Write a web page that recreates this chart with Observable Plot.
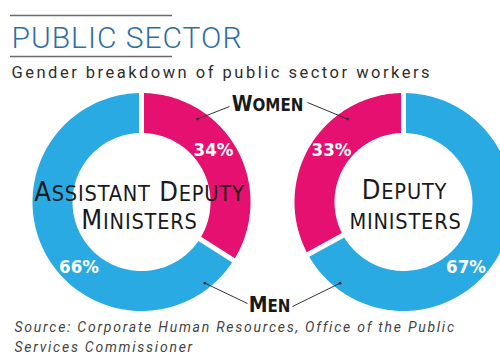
<!DOCTYPE html>
<html>
<head>
<meta charset="utf-8">
<script src="https://cdn.jsdelivr.net/npm/d3@7"></script>
<script src="https://cdn.jsdelivr.net/npm/@observablehq/plot@0.6"></script>
<style>
  body { margin: 0; background: #fff; }
  #chart { width: 500px; height: 363px; overflow: hidden; }
  tspan.sc { text-transform: uppercase; }
</style>
</head>
<body>
<div id="chart"></div>
<script>
// ---- data ----
const groups = ["Assistant Deputy Ministers", "Deputy ministers"];
const genders = ["Women", "Men"];
const womenPct = [34, 33];
const menPct = [66, 67];
const centerLines = [["Assistant Deputy", "Ministers"], ["Deputy", "ministers"]];
const titleText = "PUBLIC SECTOR";
const subtitleText = "Gender breakdown of public sector workers";
const sourceLines = ["Source: Corporate Human Resources, Office of the Public", "Services Commissioner"];
const genderColors = ["#e5106f", "#2aaae2"];

// ---- layout ----
const W = 500, H = 363;
const cx = [141, 403], cy = 201.5;
const rOuter = 109, rInner = 69, gap = 2.5;
const dir = [1, -1];
const TAU = Math.PI * 2;
const deg = Math.PI / 180;
const pt = (g, r, a) => ({x: cx[g] + r * Math.sin(a), y: cy - r * Math.cos(a)});

// slice polygons
const rings = [];
groups.forEach((grp, g) => {
  const s = dir[g];
  const w = womenPct[g] / (womenPct[g] + menPct[g]);
  const spans = s > 0
    ? {Women: [0, w * TAU], Men: [w * TAU, TAU]}
    : {Women: [-w * TAU, 0], Men: [-TAU, -w * TAU]};
  genders.forEach(gender => {
    const [a0, a1] = spans[gender];
    const po = Math.asin(gap / rOuter), pi = Math.asin(gap / rInner);
    const n = 120;
    for (let i = 0; i <= n; i++) {
      const a = (a0 + po) + (a1 - a0 - 2 * po) * i / n;
      rings.push({key: grp + gender, gender, ...pt(g, rOuter, a)});
    }
    for (let i = 0; i <= n; i++) {
      const a = (a1 - pi) - (a1 - a0 - 2 * pi) * i / n;
      rings.push({key: grp + gender, gender, ...pt(g, rInner, a)});
    }
  });
});

// percentage labels
const pctRows = [];
groups.forEach((grp, g) => {
  const s = dir[g];
  pctRows.push({label: womenPct[g] + "%", ...pt(g, 89, s * 54 * deg)});
  pctRows.push({label: menPct[g] + "%", ...pt(g, 90, -s * 136 * deg)});
});

// leader lines
const leaderEnds = {Women: [[229, 106], [307, 102]], Men: [[247, 303], [292, 306]]};
const leaders = [];
groups.forEach((grp, g) => {
  const s = dir[g];
  const wd = pt(g, 100, s * 34 * deg);
  const md = pt(g, 103, s * 142 * deg);
  leaders.push({x1: wd.x, y1: wd.y, x2: leaderEnds.Women[g][0], y2: leaderEnds.Women[g][1]});
  leaders.push({x1: md.x, y1: md.y, x2: leaderEnds.Men[g][0], y2: leaderEnds.Men[g][1]});
});

const centerRows = [
  {text: centerLines[0][0], x: 139, y: 200},
  {text: centerLines[0][1], x: 139, y: 228},
  {text: centerLines[1][0], x: 404, y: 198},
  {text: centerLines[1][1], x: 405, y: 228}
];

const condensed = "'DejaVu Sans Condensed', 'DejaVu Sans', sans-serif";

const svg = Plot.plot({
  width: W, height: H,
  margin: 0,
  x: {domain: [0, W], range: [0, W], axis: null},
  y: {domain: [0, H], range: [0, H], axis: null},
  color: {domain: genders, range: genderColors},
  style: {background: "#fff", fontFamily: "Roboto, sans-serif"},
  marks: [
    Plot.ruleY([15, 56], {x1: 10, x2: 172, stroke: "#6a6a6a", strokeWidth: 1.6}),
    Plot.text([titleText], {x: 11, y: 47, text: d => d, textAnchor: "start", lineAnchor: "bottom",
      fontSize: 30, fontWeight: 300, fill: "#2f6ea5"}),
    Plot.text([subtitleText], {x: 11, y: 77, text: d => d, textAnchor: "start", lineAnchor: "bottom",
      fontSize: 16.5, fill: "#2e2e2e"}),
    Plot.line(rings, {x: "x", y: "y", z: "key", fill: "gender", stroke: null, curve: "linear-closed"}),
    Plot.text(centerRows, {x: "x", y: "y", text: "text", lineAnchor: "bottom", fontSize: 27,
      fontFamily: condensed, fill: "#1a1a1a"}),
    Plot.text(pctRows, {x: "x", y: "y", text: "label", fontSize: 18.5, fontWeight: "bold",
      fontFamily: condensed, fill: "#fff"}),
    Plot.link(leaders, {x1: "x1", y1: "y1", x2: "x2", y2: "y2", stroke: "#333", strokeWidth: 1}),
    Plot.dot(leaders, {x: "x1", y: "y1", r: 1.4, fill: "#333"}),
    Plot.text(["Women"], {x: 267, y: 104, text: d => d, fontSize: 21, fontWeight: "bold",
      fontFamily: condensed, fill: "#1a1a1a"}),
    Plot.text(["Men"], {x: 269, y: 305, text: d => d, fontSize: 21, fontWeight: "bold",
      fontFamily: condensed, fill: "#1a1a1a"}),
    Plot.text(sourceLines, {x: 14, y: (d, i) => [331, 351][i], text: d => d, textAnchor: "start",
      lineAnchor: "bottom", fontSize: 14, fontStyle: "italic", fill: "#444"})
  ]
});

// letter spacing
const spacing = new Map([
  [titleText, "1px"], [subtitleText, "2.5px"], [sourceLines[0], "1.75px"], [sourceLines[1], "1.75px"],
  ...centerLines.flat().map(t => [t, "0.8px"])
]);
// custom small caps: capitals at full size, lowercase shown as smaller capitals
const smallCaps = new Map([
  ...centerLines.flat().map(t => [t, 0.8]),
  ["Women", 0.8], ["Men", 0.8]
]);
d3.select(svg).selectAll("text").each(function () {
  const t = this.textContent;
  if (spacing.has(t)) this.style.letterSpacing = spacing.get(t);
  if (smallCaps.has(t) && !this.querySelector("tspan")) {
    const size = parseFloat(this.closest("g").getAttribute("font-size")) || 26;
    const ratio = smallCaps.get(t);
    const runs = t.match(/[A-Z ]+|[^A-Z ]+/g);
    this.textContent = "";
    runs.forEach(run => {
      const ts = document.createElementNS("http://www.w3.org/2000/svg", "tspan");
      ts.textContent = run;
      if (/[a-z]/.test(run)) {
        ts.setAttribute("class", "sc");
        ts.setAttribute("font-size", size * ratio);
      }
      this.appendChild(ts);
    });
  }
});
document.getElementById("chart").appendChild(svg);
</script>
</body>
</html>
